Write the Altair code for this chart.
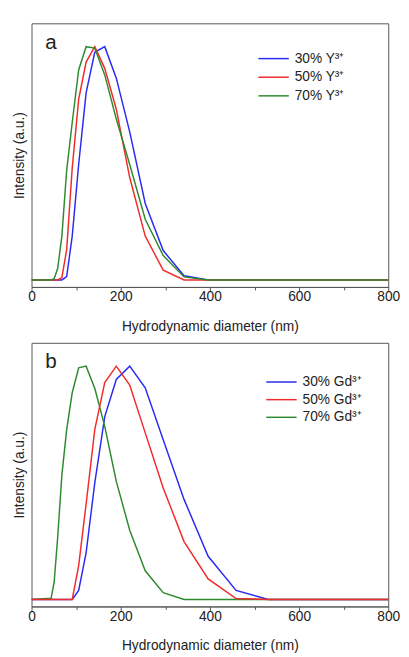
import altair as alt
import pandas as pd

# DLS size bins (nm)
diam = [0, 43.82, 50.75, 58.77, 68.06, 78.82, 91.28, 105.7, 122.4, 141.8, 164.2,
        190.1, 220.2, 255.0, 295.3, 342.0, 396.1, 458.7, 531.2, 615.1, 712.4, 825.0]

# Panel a (Y3+)
names_a = ["30% Y³⁺", "50% Y³⁺", "70% Y³⁺"]
y30 = [0, 0, 0, 0, 0, 1.4, 18.8, 49.5, 80.2, 97.6, 100, 86.5, 63.5, 32.8, 12.6, 1.8, 0, 0, 0, 0, 0, 0]
y50 = [0, 0, 0, 0, 1.0, 13.0, 48.0, 77.4, 93.4, 100, 90.7, 73.2, 43.9, 18.8, 4.2, 0, 0, 0, 0, 0, 0, 0]
y70 = [0, 0, 0.5, 5.0, 18.8, 47.0, 67.5, 90.0, 100, 99.4, 87.9, 69.0, 49.5, 26.0, 10.5, 1.3, 0, 0, 0, 0, 0, 0]

# Panel b (Gd3+)
names_b = ["30% Gd³⁺", "50% Gd³⁺", "70% Gd³⁺"]
g30 = [0, 0, 0, 0, 0, 0, 0, 3.9, 20.0, 49.9, 78.4, 94.3, 100, 90.7, 68.5, 42.9, 18.5, 3.9, 0, 0, 0, 0]
g50 = [0, 0, 0, 0, 0, 0, 0, 14.5, 40.8, 72.8, 93.0, 100, 91.9, 71.4, 47.8, 24.8, 8.8, 0.4, 0, 0, 0, 0]
g70 = [0, 0.5, 7.4, 26.9, 53.3, 72.8, 88.6, 99.3, 100, 90.5, 74.2, 50.6, 29.7, 12.3, 2.9, 0, 0, 0, 0, 0, 0, 0]

colors = ["#2a2af2", "#f22a2a", "#2f8a2f"]
x_ticks = [0, 100, 200, 300, 400, 500, 600, 700, 800]
FONT = "Liberation Sans"


def make_df(names, series, draw_order):
    rows = []
    for i in draw_order:
        for d, v in zip(diam, series[i]):
            rows.append({"d": d, "v": v, "s": names[i]})
    return pd.DataFrame(rows)


def panel(names, series, draw_order, letter, lx, ly, rowpad):
    df = make_df(names, series, draw_order)
    lines = alt.Chart(df).mark_line(strokeWidth=1.5, clip=True).encode(
        x=alt.X("d:Q", title="Hydrodynamic diameter (nm)",
                scale=alt.Scale(domain=[0, 800], nice=False, zero=False),
                axis=alt.Axis(values=x_ticks, labelFlush=False,
                              labelExpr="datum.value % 200 === 0 ? datum.label : ''",
                              tickSize={"condition": {"test": "datum.value % 200 === 0", "value": 5}, "value": 3},
                              grid=False, labelPadding=-2, titlePadding=16)),
        y=alt.Y("v:Q", title="Intensity (a.u.)",
                scale=alt.Scale(domain=[-3, 110], nice=False, zero=False),
                axis=alt.Axis(labels=False, ticks=False, domain=False, grid=False, titlePadding=5)),
        color=alt.Color("s:N", scale=alt.Scale(domain=names, range=colors),
                        legend=alt.Legend(orient="none", legendX=lx, legendY=ly, title=None,
                                          symbolType="M-3.1,0H3.1", symbolSize=100, symbolStrokeWidth=1.5,
                                          labelFontSize=14, labelFont=FONT, labelColor="#222",
                                          labelOffset=14.5, rowPadding=rowpad, padding=0, labelLimit=200)),
    )
    lab = alt.Chart(pd.DataFrame({"t": [letter]})).mark_text(
        align="left", baseline="alphabetic", fontSize=21, font=FONT, color="#222"
    ).encode(x=alt.value(14), y=alt.value(26), text="t:N")
    return alt.layer(lines, lab).properties(width=364, height=269)


top = panel(names_a, [y30, y50, y70], [0, 1, 2], "a", 240, 29, 5)
bottom = panel(names_b, [g30, g50, g70], [0, 2, 1], "b", 248, 33, 4)

chart = alt.vconcat(top, bottom, spacing=8).resolve_scale(color="independent").properties(
    padding={"left": 4, "top": 8, "right": 0, "bottom": 0}
).configure_view(stroke="#555", strokeWidth=1).configure_axis(
    labelFont=FONT, titleFont=FONT, labelFontSize=14, titleFontSize=14,
    titleFontWeight="normal", labelColor="#222", titleColor="#222",
    domainColor="#555", tickColor="#555"
)

chart.save("out.html", embed_options={"renderer": "svg", "actions": False})
